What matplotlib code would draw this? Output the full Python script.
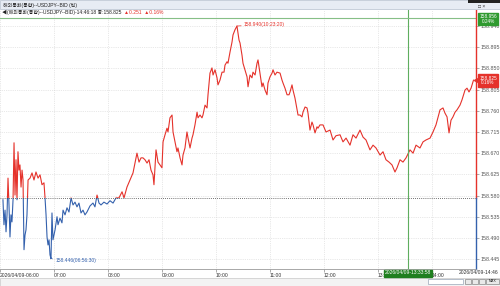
"""
USDJPY BID tick chart, 2026/04/09 06:00-14:46, coloured against the previous close.
"""

import matplotlib
matplotlib.use("Agg")
import matplotlib.pyplot as plt
from matplotlib.patches import Rectangle

plt.rcParams["font.family"] = ["Liberation Sans", "Noto Sans CJK KR", "DejaVu Sans"]

# minutes after 06:00 and BID price
minutes = [3.1, 4.2, 5.4, 6.5, 7.6, 8.7, 9.8, 10.9, 12.0, 13.1, 14.3, 15.4, 16.5, 17.6,
           18.7, 19.8, 20.9, 22.0, 23.2, 24.3, 25.4, 26.5, 27.6, 28.7, 29.8, 31.0, 33.2,
           35.4, 37.6, 39.8, 42.1, 44.3, 46.5, 48.7, 49.8, 51.0, 52.1, 53.2, 54.3, 55.4,
           56.5, 57.6, 58.7, 61.0, 63.2, 64.3, 66.5, 68.7, 69.9, 72.1, 74.3, 76.5, 78.8,
           81.0, 83.2, 85.4, 87.6, 89.9, 92.1, 94.3, 96.5, 99.9, 103.2, 105.4, 107.7,
           109.9, 112.1, 115.4, 118.8, 122.1, 125.5, 128.8, 132.1, 135.5, 137.7, 141.0,
           144.4, 147.7, 149.9, 152.1, 154.4, 156.6, 158.8, 161.0, 163.3, 165.5, 167.7,
           169.9, 171.0, 173.3, 175.5, 177.7, 179.9, 181.1, 183.3, 185.5, 186.6, 188.8,
           191.1, 192.2, 194.4, 196.6, 197.7, 200.0, 202.2, 203.3, 205.5, 207.7, 208.9,
           211.1, 213.3, 214.4, 216.6, 218.9, 220.0, 222.2, 224.4, 225.5, 227.8, 230.0,
           231.1, 233.3, 235.5, 236.7, 238.9, 241.1, 242.2, 244.4, 246.7, 248.9, 250.0,
           252.2, 253.3, 255.6, 257.8, 258.9, 261.1, 263.3, 265.6, 266.7, 268.9, 270.0,
           272.2, 274.5, 275.6, 277.8, 280.0, 281.1, 283.4, 285.6, 286.7, 288.9, 291.1,
           292.3, 294.5, 296.7, 297.8, 300.0, 302.3, 303.4, 305.6, 307.8, 311.2, 313.4,
           314.5, 316.7, 319.0, 321.2, 322.3, 324.5, 325.6, 327.8, 330.1, 331.2, 333.4,
           335.6, 336.7, 339.0, 341.2, 342.3, 344.5, 346.7, 347.9, 350.1, 352.3, 353.4,
           355.6, 359.0, 362.3, 366.8, 370.1, 373.4, 377.9, 381.2, 384.6, 389.0, 392.3,
           395.7, 400.1, 403.5, 406.8, 411.2, 414.6, 417.9, 422.4, 425.7, 429.0, 432.4,
           435.7, 439.0, 441.3, 444.6, 447.9, 451.3, 455.7, 459.1, 462.4, 466.8, 470.2,
           473.5, 478.0, 481.3, 484.6, 489.1, 492.4, 494.6, 496.9, 499.1, 501.3, 503.5,
           505.8, 508.0, 511.3, 513.5, 516.9, 519.1, 521.3, 523.6, 526.3]
prices = [158.571, 158.518, 158.549, 158.503, 158.539, 158.617, 158.560, 158.492, 158.539,
          158.524, 158.571, 158.692, 158.581, 158.656, 158.571, 158.673, 158.634, 158.645,
          158.598, 158.634, 158.613, 158.465, 158.496, 158.507, 158.539, 158.613, 158.617,
          158.628, 158.613, 158.630, 158.617, 158.624, 158.603, 158.607, 158.577, 158.539,
          158.492, 158.475, 158.486, 158.454, 158.446, 158.543, 158.486, 158.507, 158.535,
          158.518, 158.532, 158.522, 158.549, 158.539, 158.554, 158.545, 158.575, 158.560,
          158.566, 158.556, 158.564, 158.543, 158.549, 158.539, 158.545, 158.558, 158.564,
          158.556, 158.581, 158.564, 158.560, 158.566, 158.562, 158.569, 158.564, 158.575,
          158.575, 158.588, 158.575, 158.598, 158.613, 158.628, 158.649, 158.670, 158.651,
          158.660, 158.660, 158.656, 158.649, 158.656, 158.634, 158.624, 158.603, 158.677,
          158.651, 158.645, 158.639, 158.694, 158.709, 158.723, 158.715, 158.745, 158.751,
          158.715, 158.694, 158.673, 158.681, 158.660, 158.645, 158.666, 158.681, 158.715,
          158.702, 158.681, 158.702, 158.709, 158.730, 158.757, 158.745, 158.751, 158.745,
          158.751, 158.772, 158.766, 158.794, 158.840, 158.851, 158.836, 158.847, 158.830,
          158.815, 158.825, 158.842, 158.842, 158.857, 158.864, 158.861, 158.885, 158.906,
          158.921, 158.932, 158.940, 158.910, 158.904, 158.878, 158.861, 158.847, 158.832,
          158.811, 158.836, 158.830, 158.842, 158.836, 158.861, 158.868, 158.840, 158.811,
          158.819, 158.804, 158.794, 158.819, 158.832, 158.840, 158.847, 158.836, 158.842,
          158.840, 158.825, 158.819, 158.808, 158.794, 158.794, 158.800, 158.815, 158.804,
          158.787, 158.762, 158.751, 158.751, 158.747, 158.757, 158.768, 158.766, 158.755,
          158.719, 158.736, 158.730, 158.713, 158.726, 158.723, 158.730, 158.730, 158.715,
          158.719, 158.698, 158.707, 158.709, 158.694, 158.702, 158.687, 158.709, 158.702,
          158.719, 158.704, 158.698, 158.677, 158.687, 158.681, 158.666, 158.673, 158.656,
          158.651, 158.645, 158.630, 158.639, 158.656, 158.651, 158.660, 158.677, 158.670,
          158.687, 158.681, 158.694, 158.698, 158.702, 158.715, 158.730, 158.762, 158.766,
          158.755, 158.747, 158.713, 158.740, 158.747, 158.757, 158.762, 158.772, 158.783,
          158.804, 158.808, 158.800, 158.808, 158.825]

prev_close = 158.574
last_price = 158.825
high_price, high_min, high_label = 158.940, 263.3, "158.940(10:23:20)"
low_price, low_min, low_label = 158.446, 56.5, "158.446(06:56:30)"
cursor_min, cursor_price = 454.0, 158.956

hour_ticks = [0, 60, 120, 180, 240, 300, 360, 420, 480]
hour_labels = ["2026/04/09-06:00", "07:00", "08:00", "09:00", "10:00",
               "11:00", "12:00", "13:00", "14:00"]
price_ticks = [158.445, 158.490, 158.535, 158.580, 158.625, 158.670,
               158.715, 158.760, 158.805, 158.850, 158.895, 158.940]

RED = "#e5322b"
BLUE = "#3461ad"
GREEN = "#2f9a2f"
W, H = 500, 286


def px(x, y):
    # figure pixel -> figure fraction (y measured from the top)
    return x / W, 1 - y / H


def fig_box(fig, x, y, w, h, **kw):
    fig.patches.append(Rectangle(px(x, y + h), w / W, h / H,
                                 transform=fig.transFigure, **kw))


def main():
    fig = plt.figure(figsize=(W / 100, H / 100), dpi=100)
    ax = fig.add_axes([0, 17 / H, 476 / W, 259 / H])
    xlo, xhi = -0.2, 529.1
    ylo, yhi = 158.424, 158.974
    ax.set_xlim(xlo, xhi)
    ax.set_ylim(ylo, yhi)

    # price line, red above the previous close and blue below it
    up, = ax.plot(minutes, prices, color=RED, lw=0.8)
    up.set_clip_path(Rectangle((xlo, prev_close), xhi - xlo, yhi - prev_close,
                               transform=ax.transData))
    dn, = ax.plot(minutes, prices, color=BLUE, lw=0.8)
    dn.set_clip_path(Rectangle((xlo, ylo), xhi - xlo, prev_close - ylo,
                               transform=ax.transData))

    ax.axhline(prev_close, color="#444444", lw=0.6, ls=(0, (1, 1.5)))
    ax.axvline(cursor_min, color="#5fae5f", lw=0.8)
    ax.axhline(cursor_price, color="#86bf86", lw=0.8)

    yt = ax.get_yaxis_transform()
    ax.plot([1, 1], [prev_close, yhi], transform=yt, color=RED, lw=1, clip_on=False)
    ax.plot([1, 1], [ylo, prev_close], transform=yt, color=BLUE, lw=1, clip_on=False)
    ax.plot([xhi], [last_price], marker="<", ms=3, color=RED, clip_on=False)

    ax.annotate(high_label, xy=(high_min, high_price), xytext=(5, 1),
                textcoords="offset points", fontsize=3.6, color=RED, va="center",
                arrowprops=dict(arrowstyle="-", lw=0.5, color=RED, shrinkA=0, shrinkB=0))
    ax.annotate(low_label, xy=(low_min, low_price), xytext=(3, -1.5),
                textcoords="offset points", fontsize=3.6, color=BLUE, va="center",
                arrowprops=dict(arrowstyle="-", lw=0.5, color=BLUE, shrinkA=0, shrinkB=0))

    ax.set_xticks(hour_ticks)
    ax.set_xticklabels(hour_labels)
    for lbl in ax.get_xticklabels():
        lbl.set_ha("left")
    ax.set_yticks(price_ticks)
    ax.set_yticklabels([f"{p:.3f}" for p in price_ticks])
    ax.yaxis.tick_right()
    ax.tick_params(axis="x", length=2, width=0.5, color="#888888", pad=1,
                   labelsize=3.6, labelcolor="#333333")
    ax.tick_params(axis="y", length=2, width=0.5, color="#888888", pad=1,
                   labelsize=3.8, labelcolor="#555555")
    ax.grid(True, ls=":", color="#d3d3d3", lw=0.5)
    for side in ("top", "left", "right"):
        ax.spines[side].set_visible(False)
    ax.spines["bottom"].set_color("#9a9a9a")
    ax.spines["bottom"].set_linewidth(0.6)

    # window title bar and info line
    fig_box(fig, 0, 0, W, 9, facecolor="#e7ecf4", edgecolor="#b7c1ce", lw=0.5)
    fig_box(fig, 468, 0, 32, 3, facecolor="#222222", lw=0)
    fig.text(*px(3, 5), "해외통화(통합)--USDJPY--BID (틱)", fontsize=3.6,
             va="center", color="#222222")
    fig.text(*px(478, 6), "□ ×", fontsize=3.6, va="center", color="#333333")
    info = fig.text(*px(2, 12.5), "◀(해외통화(통합)--USDJPY--BID)-14:46:18 종:158.825",
                    fontsize=3.6, va="center", color="#222222")
    ax.annotate("▲0.251  ▲0.16%", xy=(1, 0), xycoords=info, xytext=(2, 0),
                textcoords="offset points", fontsize=3.6, va="bottom", color=RED,
                annotation_clip=False)

    # price boxes on the right axis and the cursor time box
    fig.text(*px(488, 19), "158.956\n0.24%", fontsize=3.4, color="white",
             ha="center", va="center", linespacing=1.0,
             bbox=dict(boxstyle="square,pad=0.25", facecolor=GREEN, edgecolor=GREEN))
    fig.text(*px(488, 80.5), "158.825\n0.16%", fontsize=3.4, color="white",
             ha="center", va="center", linespacing=1.0,
             bbox=dict(boxstyle="square,pad=0.25", facecolor=RED, edgecolor=RED))
    fig.text(*px(408, 273), "2026/04/09-13:33:58", fontsize=3.6, color="white",
             ha="center", va="center",
             bbox=dict(boxstyle="square,pad=0.2", facecolor="#1f7f1f", edgecolor="#1f7f1f"))
    fig.text(*px(498, 273), "2026/04/09-14:46", fontsize=3.6, color="#333333",
             ha="right", va="center")

    # scroll bar strip at the bottom
    fig_box(fig, 0, 277.5, W, 8.5, facecolor="#f3f3f3", edgecolor="#c8c8c8", lw=0.5)
    fig_box(fig, 428, 279, 35, 5, facecolor="white", edgecolor="#9aa6b8", lw=0.5)
    for bx in (465, 472, 479):
        fig_box(fig, bx, 279, 6, 5, facecolor="#e9e9e9", edgecolor="#888888", lw=0.5)
    fig_box(fig, 486, 279, 13, 5, facecolor="#e9e9e9", edgecolor="#888888", lw=0.5)
    fig.text(*px(492.5, 281.5), "MAX", fontsize=2.6, ha="center", va="center",
             color="#222222")

    fig.savefig("out.png", dpi=100, facecolor="white")


if __name__ == "__main__":
    main()
